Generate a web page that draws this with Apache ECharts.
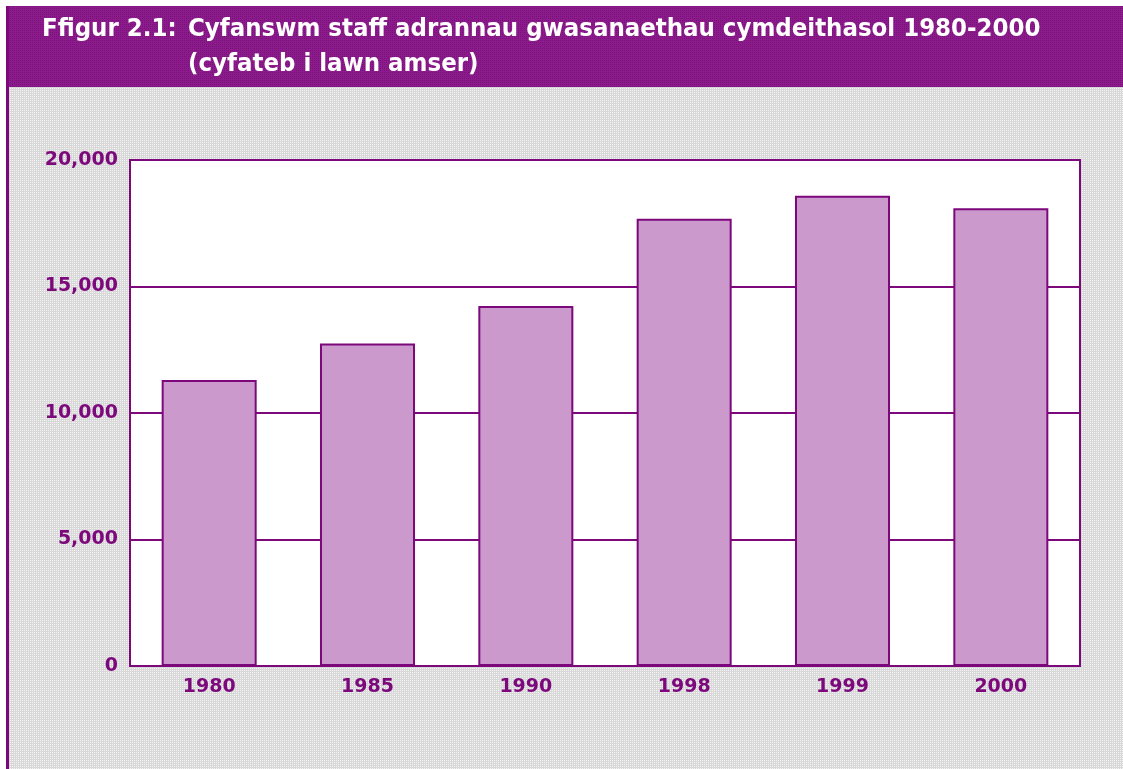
<!DOCTYPE html>
<html lang="cy" style="height: 100%">
<head>
    <meta charset="utf-8">
    <script src="https://cdn.jsdelivr.net/npm/echarts@6/dist/echarts.min.js"></script>
</head>
<body style="height: 100%; margin: 0; background: #fff">
    <div id="container" style="width: 1123px; height: 769px"></div>
    <script type="text/javascript">
        // data
        const years = ['1980', '1985', '1990', '1998', '1999', '2000'];
        const staff = [11300, 12750, 14230, 17680, 18590, 18090];
        const yTicks = [0, 5000, 10000, 15000, 20000];

        const titleLine1 = 'Ffigur 2.1:';
        const titleLine2 = 'Cyfanswm staff adrannau gwasanaethau cymdeithasol 1980-2000';
        const titleLine3 = '(cyfateb i lawn amser)';

        const purple = '#7c087c';
        const barFill = '#cc99cc';

        // small tiles to mimic the printed screen texture
        function makeTile(bg, fg, size) {
            let c = document.createElement('canvas');
            c.width = size; c.height = size;
            let ctx = c.getContext('2d');
            ctx.fillStyle = bg;
            ctx.fillRect(0, 0, size, size);
            ctx.fillStyle = fg;
            ctx.fillRect(0, 0, 1, 1);
            ctx.fillRect(2, 2, 1, 1);
            ctx.fillRect(0, 2, 1, 1);
            ctx.fillRect(2, 0, 1, 1);
            return c;
        }
        const greyTile = makeTile('#d8d8d8', '#f4f4f4', 4);
        const bannerTile = makeTile('#8c1c8c', '#7a107a', 4);

        let dom = document.getElementById('container');
        let myChart = echarts.init(dom, null, { renderer: 'canvas' });

        const labelFont = {
            color: purple,
            fontFamily: 'DejaVu Sans',
            fontWeight: 'bold',
            fontSize: 19
        };
        const titleFont = 'bold 25.5px "DejaVu Sans Condensed", "DejaVu Sans"';

        let option = {
            animation: false,
            backgroundColor: '#fff',
            graphic: [
                {
                    type: 'rect', z: -10, silent: true,
                    shape: { x: 7, y: 87, width: 1116, height: 682 },
                    style: { fill: { image: greyTile, repeat: 'repeat' } }
                },
                {
                    type: 'rect', z: -9, silent: true,
                    shape: { x: 7, y: 6, width: 1116, height: 81 },
                    style: { fill: { image: bannerTile, repeat: 'repeat' } }
                },
                {
                    type: 'rect', z: -8, silent: true,
                    shape: { x: 6, y: 6, width: 3, height: 763 },
                    style: { fill: purple }
                },
                {
                    type: 'text', left: 42, top: 16, silent: true,
                    style: { text: titleLine1, fill: '#fff', font: titleFont }
                },
                {
                    type: 'text', left: 188, top: 16, silent: true,
                    style: { text: titleLine2, fill: '#fff', font: titleFont }
                },
                {
                    type: 'text', left: 188, top: 51, silent: true,
                    style: { text: titleLine3, fill: '#fff', font: titleFont }
                }
            ],
            grid: {
                left: 130,
                right: 43,
                top: 160,
                bottom: 103,
                show: true,
                backgroundColor: '#fff',
                borderColor: purple,
                borderWidth: 2
            },
            xAxis: {
                type: 'category',
                data: years,
                axisLine: { show: false },
                axisTick: { show: false },
                axisLabel: Object.assign({ margin: 12 }, labelFont)
            },
            yAxis: {
                type: 'value',
                min: yTicks[0],
                max: yTicks[yTicks.length - 1],
                interval: 5000,
                axisLine: { show: false },
                axisTick: { show: false },
                splitLine: { lineStyle: { color: purple, width: 2 } },
                axisLabel: Object.assign({
                    margin: 12,
                    padding: [8, 0, 0, 0],
                    formatter: (v) => v.toLocaleString('en-GB')
                }, labelFont)
            },
            series: [
                {
                    type: 'bar',
                    data: staff,
                    barWidth: '60%',
                    itemStyle: {
                        color: barFill,
                        borderColor: purple,
                        borderWidth: 2
                    }
                }
            ]
        };

        myChart.setOption(option);
    </script>
</body>
</html>
